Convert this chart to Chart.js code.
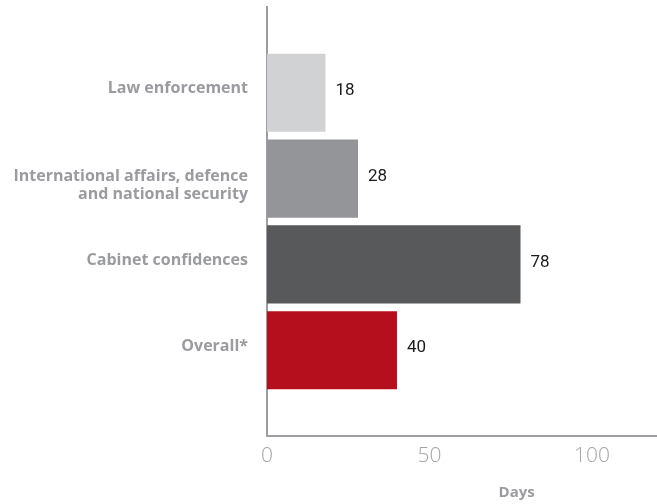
<!DOCTYPE html>
<html>
<head>
<meta charset="utf-8">
<script src="https://cdn.jsdelivr.net/npm/chart.js@4/dist/chart.umd.min.js"></script>
<style>
  html, body { margin: 0; padding: 0; background: #fff; }
  #wrap { position: relative; width: 657px; height: 504px; }
</style>
</head>
<body>
<div id="wrap"><canvas id="chart"></canvas></div>
<script>
// processing times by exemption type
const categories = [
  'Law enforcement',
  ['International affairs, defence', 'and national security'],
  'Cabinet confidences',
  'Overall*'
];
const days = [18, 28, 78, 40];
const barColors = ['#d1d2d4', '#939598', '#58595b', '#b50f1e'];
const xTicks = [0, 50, 100];
const xTitle = 'Days';

// empty slot above and below so the bars sit inside the longer axis
const labels = [''].concat(categories, ['']);
const values = [null].concat(days, [null]);
const colors = ['#fff'].concat(barColors, ['#fff']);

const axisGray = '#9d9ea2';
const labelGray = '#9a9b9f';

const valueLabels = {
  id: 'valueLabels',
  afterDatasetsDraw(chart) {
    const ctx = chart.ctx;
    const meta = chart.getDatasetMeta(0);
    ctx.save();
    ctx.font = '17px Roboto, "Liberation Sans", sans-serif';
    ctx.fillStyle = '#1a1a1a';
    ctx.textAlign = 'left';
    ctx.textBaseline = 'middle';
    meta.data.forEach((bar, i) => {
      if (values[i] == null) return;
      ctx.fillText(String(values[i]), bar.x + 10, bar.y - 2);
    });
    ctx.restore();
  }
};

// two-line category labels hang from the bar top rather than centring on it
const hangMultiline = {
  id: 'hangMultiline',
  beforeDraw(chart) {
    const scale = chart.scales.y;
    const items = scale.getLabelItems(chart.chartArea);
    items.forEach(item => {
      if (Array.isArray(item.label) && !item.shifted) {
        item.options.translation[1] += 11;
        item.shifted = true;
      }
    });
  }
};

const axisTitle = {
  id: 'axisTitle',
  afterDraw(chart) {
    const ctx = chart.ctx;
    const area = chart.chartArea;
    ctx.save();
    ctx.font = 'bold 15px "Open Sans", "DejaVu Sans", sans-serif';
    ctx.fillStyle = labelGray;
    ctx.textAlign = 'center';
    ctx.textBaseline = 'middle';
    ctx.fillText(xTitle, area.left + (area.right - area.left) * 0.64, 493);
    ctx.restore();
  }
};

new Chart(document.getElementById('chart'), {
  type: 'bar',
  data: {
    labels: labels,
    datasets: [{
      data: values,
      backgroundColor: colors,
      borderWidth: 0,
      categoryPercentage: 1,
      barPercentage: 0.91
    }]
  },
  options: {
    indexAxis: 'y',
    responsive: true,
    maintainAspectRatio: false,
    animation: false,
    layout: { padding: { top: 7, right: 0, bottom: 0, left: 0 } },
    plugins: {
      legend: { display: false },
      tooltip: { enabled: false }
    },
    scales: {
      x: {
        min: 0,
        max: 120,
        afterBuildTicks(scale) {
          scale.ticks = xTicks.map(v => ({ value: v }));
        },
        afterFit(scale) {
          scale.height = 68;
          scale.paddingLeft = 0;
          scale.paddingRight = 0;
        },
        grid: { display: false, drawTicks: false },
        border: { display: true, color: axisGray, width: 2 },
        ticks: {
          padding: 7,
          color: '#a3a4a8',
          font: { family: '"Open Sans", "DejaVu Sans", sans-serif', size: 21, weight: 300 }
        }
      },
      y: {
        offset: false,
        afterFit(scale) {
          scale.width = 267;
          scale.paddingTop = 0;
          scale.paddingBottom = 0;
        },
        grid: { display: false, drawTicks: false },
        border: { display: true, color: axisGray, width: 2 },
        ticks: {
          padding: 19,
          labelOffset: -4,
          color: labelGray,
          autoSkip: false,
          font: { family: '"Open Sans", "DejaVu Sans", sans-serif', size: 16, weight: 'bold', lineHeight: 1.15 }
        }
      }
    }
  },
  plugins: [valueLabels, hangMultiline, axisTitle]
});
</script>
</body>
</html>
